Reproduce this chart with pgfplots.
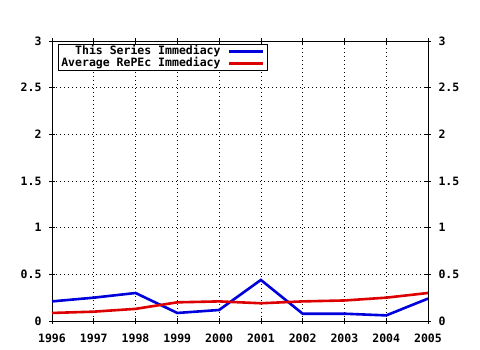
\documentclass[border=0pt]{standalone}
\usepackage{pgfplots}
\pgfplotsset{compat=1.18}
\usepackage{fontspec}
\setmainfont{DejaVu Sans Mono}
\definecolor{gblue}{RGB}{0,0,220}
\definecolor{gred}{RGB}{220,0,0}
\begin{document}
\begin{tikzpicture}[x=1pt,y=1pt,font=\fontsize{11.5}{12}\selectfont\bfseries]
\fill[white] (0,0) rectangle (480,350);
\begin{axis}[
  at={(52pt,29pt)}, anchor=south west,
  scale only axis, width=376pt, height=280pt,
  xmin=1996, xmax=2005, ymin=0, ymax=3,
  xtick={1996,...,2005}, ytick={0,0.5,...,3},
  grid=major, major grid style={black, line width=0.6pt, dash pattern=on 1pt off 3pt},
  axis line style={black, line width=0.6pt},
  tick style={black, line width=0.6pt},
  tick align=center, major tick length=6pt,
  xtick pos=both, ytick pos=both, yticklabel pos=left,
  /pgf/number format/assume math mode=true,
  xticklabel style={/pgf/number format/1000 sep={}, yshift=-6pt, text height=8.5pt, text depth=0pt},
  yticklabel style={/pgf/number format/fixed, xshift=-4pt},
  x tick label style={font=\fontsize{11.5}{12}\selectfont\bfseries},
  y tick label style={font=\fontsize{11.5}{12}\selectfont\bfseries},
  legend cell align=right,
  legend style={at={(0.016,0.989)}, anchor=north west, draw=black, line width=0.6pt,
    inner xsep=3pt, inner ysep=2pt, row sep=2pt,
    nodes={inner sep=0pt, text height=8.5pt, text depth=1.5pt},
    font=\fontsize{11.5}{12}\selectfont\bfseries,
    /tikz/every odd column/.append style={column sep=7pt}},
  legend plot pos=right,
  legend image code/.code={\draw[#1, line width=2.6pt] (0pt,0pt) -- (34pt,0pt);},
]
\addplot[gblue, line width=2.6pt, mark=none] coordinates {
(1996,0.21) (1997,0.25) (1998,0.30) (1999,0.086) (2000,0.118) (2001,0.44) (2002,0.078) (2003,0.078) (2004,0.06) (2005,0.24)};
\addlegendentry{This Series Immediacy}
\addplot[gred, line width=2.6pt, mark=none] coordinates {
(1996,0.086) (1997,0.10) (1998,0.13) (1999,0.20) (2000,0.21) (2001,0.19) (2002,0.21) (2003,0.22) (2004,0.25) (2005,0.30)};
\addlegendentry{Average RePEc Immediacy}
\end{axis}
\begin{axis}[
  at={(52pt,29pt)}, anchor=south west,
  scale only axis, width=376pt, height=280pt,
  xmin=1996, xmax=2005, ymin=0, ymax=3,
  ytick={0,0.5,...,3}, xtick=\empty,
  axis x line=none, axis y line*=right,
  axis line style={black, line width=0.6pt, -},
  tick align=center, major tick length=6pt,
  tick style={black, line width=0.6pt},
  /pgf/number format/assume math mode=true,
  yticklabel style={/pgf/number format/fixed, xshift=4pt, font=\fontsize{11.5}{12}\selectfont\bfseries},
]
\end{axis}
\end{tikzpicture}
\end{document}
